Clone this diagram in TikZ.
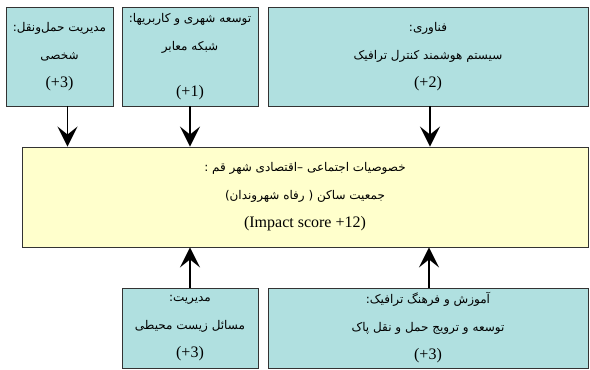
\documentclass[tikz,border=0pt]{standalone}
\usepackage{fontspec}
\setmainfont{Liberation Serif}
\newfontfamily\fa[Script=Arabic]{DejaVu Sans}
\TeXXeTstate=1
\usepackage{tikz}
\usetikzlibrary{arrows.meta}
\definecolor{boxcyan}{HTML}{B0E0E0}
\definecolor{boxyellow}{HTML}{FFFFCC}
\definecolor{edgegray}{HTML}{333333}
\newcommand{\rtltext}[1]{{\fa\fontsize{12}{28}\selectfont\beginR #1\endR}}

\begin{document}
\begin{tikzpicture}[x=1pt,y=1pt,
    factor/.style={draw=edgegray,line width=0.9pt,fill=boxcyan,align=center,inner sep=0pt,font=\fontsize{16}{28}\selectfont},
    hub/.style={factor,fill=boxyellow},
    flow/.style={line width=1.6pt,-{Stealth[length=20pt,width=20pt,inset=8pt]}}]
        \useasboundingbox (0,0) rectangle (590,370);

        % Top row
        \node[factor,minimum width=107pt,minimum height=99pt] (pers) at (59.5,313.5)
            {\rtltext{مدیریت حمل‌ونقل:}\\\rtltext{شخصی}\\(+3)};
        \node[factor,minimum width=136pt,minimum height=99pt] (urban) at (190,313.5)
            {\rtltext{توسعه شهری و کاربریها:}\\\rtltext{شبکه معابر}\\[18pt](+1)};
        \node[factor,minimum width=320pt,minimum height=99pt] (tech) at (428,313.5)
            {\rtltext{فناوری:}\\\rtltext{سیستم هوشمند کنترل ترافیک}\\(+2)};

        % Centre box
        \node[hub,minimum width=566pt,minimum height=100pt] (qom) at (305,173)
            {\rtltext{خصوصیات اجتماعی –اقتصادی شهر قم :}\\\rtltext{جمعیت ساکن ( رفاه شهروندان)}\\(Impact score +12)};

        % Bottom row
        \node[factor,minimum width=136pt,minimum height=80pt] (env) at (190,42)
            {\rtltext{مدیریت:}\\\rtltext{مسائل زیست محیطی}\\(+3)};
        \node[factor,minimum width=320pt,minimum height=80pt] (edu) at (428,42)
            {\rtltext{آموزش و فرهنگ ترافیک:}\\\rtltext{توسعه و ترویج حمل و نقل پاک}\\(+3)};

        % Arrows
        \draw[flow] ([xshift=8pt]pers.south) -- ([xshift=8pt]pers.south |- qom.north);
        \draw[flow] (urban.south) -- (urban.south |- qom.north);
        \draw[flow] ([xshift=2pt]tech.south) -- ([xshift=2pt]tech.south |- qom.north);
        \draw[flow] (env.north) -- (env.north |- qom.south);
        \draw[flow] ([xshift=1pt]edu.north) -- ([xshift=1pt]edu.north |- qom.south);
    \end{tikzpicture}
\end{document}
